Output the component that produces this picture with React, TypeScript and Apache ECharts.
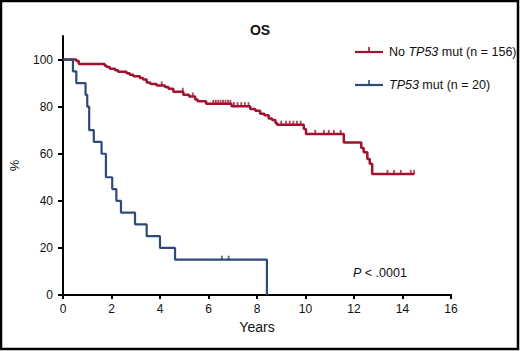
import React, { useEffect, useRef } from "react";
import * as echarts from "echarts";

// Kaplan–Meier step events: [time in years, survival % after the event]
const noMutEvents: [number, number][] = [
  [0.55, 99.4], [0.65, 98.1], [1.72, 97.4], [1.8, 96.8], [1.93, 96.1], [2.15, 95.5],
  [2.27, 94.8], [2.62, 94.2], [2.75, 93.5], [2.9, 92.9], [3.17, 92.2], [3.3, 91.5],
  [3.45, 90.3], [3.6, 89.6], [3.86, 89.0], [4.2, 88.3], [4.35, 87.6], [4.55, 86.3],
  [4.96, 85.0], [5.2, 84.3], [5.45, 83.0], [5.55, 82.3], [5.9, 81.2], [6.95, 80.2],
  [7.72, 79.0], [7.93, 78.3], [8.13, 77.0], [8.3, 76.3], [8.48, 75.0], [8.62, 74.3],
  [8.76, 73.0], [8.83, 72.3], [9.93, 70.5], [10.02, 68.4], [11.58, 64.8], [12.3, 62.4],
  [12.4, 60.6], [12.55, 57.8], [12.65, 55.7], [12.75, 51.4],
];
const noMutEnd = 14.48;
const noMutCensored = [
  4.07, 4.94, 5.35, 6.2, 6.3, 6.4, 6.5, 6.6, 6.7, 6.8, 6.9, 7.05, 7.2, 7.35, 7.5, 7.65,
  9.0, 9.2, 9.35, 9.5, 9.65, 9.8, 10.4, 10.76, 10.96, 11.17, 11.45, 13.38, 13.65, 13.93,
  14.34, 14.48,
];

const mutEvents: [number, number][] = [
  [0.41, 95], [0.55, 90], [0.93, 85], [1.0, 80], [1.08, 70], [1.27, 65], [1.59, 60],
  [1.77, 50], [2.03, 45], [2.2, 40], [2.39, 35], [2.97, 30], [3.45, 25], [4.0, 20],
  [4.62, 15], [8.41, 0],
];
const mutEnd = 8.41;
const mutCensored = [6.55, 6.83];

const xTicks = [0, 2, 4, 6, 8, 10, 12, 14, 16];
const yTicks = [0, 20, 40, 60, 80, 100];

const RED = "#a3122e";
const BLUE = "#2f4a7a";

function stepLine(events: [number, number][], end: number): number[][] {
  const pts: number[][] = [[0, 100]];
  let prev = 100;
  for (const [t, v] of events) {
    pts.push([t, prev]);
    pts.push([t, v]);
    prev = v;
  }
  pts.push([end, prev]);
  return pts;
}

function survAt(events: [number, number][], t: number): number {
  let s = 100;
  for (const [et, v] of events) {
    if (et <= t) s = v;
  }
  return s;
}

export default function App() {
  const ref = useRef<HTMLDivElement>(null);
  useEffect(() => {
    document.body.style.margin = "0";
    if (!ref.current) return;
    const chart = echarts.init(ref.current, null, { renderer: "svg" });
    const font = "'Liberation Sans', Arial, sans-serif";
    const censorSym = {
      type: "scatter" as const,
      symbol: "rect",
      symbolSize: [1.8, 4.5],
      symbolOffset: [0, -1.8],
      silent: true,
      z: 3,
    };
    const rich = {
      n: { fontFamily: font, fontSize: 12.5, fill: "#111" },
      i: { fontFamily: font, fontSize: 12.5, fontStyle: "italic", fill: "#111" },
    };
    chart.setOption({
      animation: false,
      backgroundColor: "#ffffff",
      title: {
        text: "OS",
        left: "center",
        top: 18,
        textStyle: { fontFamily: font, fontSize: 14, fontWeight: "bold", color: "#111" },
      },
      grid: { left: 63, right: 69, top: 36, bottom: 56 },
      xAxis: {
        type: "value",
        min: 0,
        max: 16,
        interval: 2,
        name: "Years",
        nameLocation: "middle",
        nameGap: 24,
        nameTextStyle: { fontFamily: font, fontSize: 14, color: "#111" },
        axisLine: { onZero: false, lineStyle: { color: "#000", width: 2 } },
        axisTick: { length: 4, lineStyle: { color: "#000", width: 2 } },
        axisLabel: {
          margin: 8,
          fontFamily: font,
          fontSize: 12,
          color: "#111",
          customValues: xTicks,
        },
        splitLine: { show: false },
      },
      yAxis: {
        type: "value",
        min: 0,
        max: 110,
        name: "%",
        nameLocation: "middle",
        nameGap: 42,
        nameRotate: 90,
        nameTextStyle: { fontFamily: font, fontSize: 13, color: "#111" },
        axisLine: { show: true, lineStyle: { color: "#000", width: 2 } },
        axisTick: {
          show: true,
          length: 5,
          lineStyle: { color: "#000", width: 2 },
          customValues: yTicks,
        },
        axisLabel: {
          margin: 10,
          fontFamily: font,
          fontSize: 12,
          color: "#111",
          customValues: yTicks,
        },
        splitLine: { show: false },
      },
      series: [
        {
          type: "line",
          data: stepLine(noMutEvents, noMutEnd),
          symbol: "none",
          lineStyle: { color: RED, width: 2.5 },
          z: 2,
        },
        {
          type: "line",
          data: stepLine(mutEvents, mutEnd),
          symbol: "none",
          lineStyle: { color: BLUE, width: 2.2 },
          z: 2,
        },
        {
          ...censorSym,
          data: noMutCensored.map((t) => [t, survAt(noMutEvents, t)]),
          itemStyle: { color: RED },
        },
        {
          ...censorSym,
          data: mutCensored.map((t) => [t, survAt(mutEvents, t)]),
          itemStyle: { color: BLUE },
        },
      ],
      graphic: [
        {
          type: "rect",
          shape: { x: 1, y: 1, width: 517, height: 348 },
          style: { fill: "none", stroke: "#000", lineWidth: 2.5 },
          silent: true,
        },
        { type: "line", shape: { x1: 355, y1: 52, x2: 383, y2: 52 }, style: { stroke: RED, lineWidth: 2.2 } },
        { type: "line", shape: { x1: 369, y1: 47, x2: 369, y2: 52 }, style: { stroke: RED, lineWidth: 1.6 } },
        {
          type: "text",
          x: 389,
          y: 52,
          style: { text: "{n|No }{i|TP53}{n| mut (n = 156)}", verticalAlign: "middle", rich },
        },
        { type: "line", shape: { x1: 355, y1: 85, x2: 383, y2: 85 }, style: { stroke: BLUE, lineWidth: 2.2 } },
        { type: "line", shape: { x1: 369, y1: 80, x2: 369, y2: 85 }, style: { stroke: BLUE, lineWidth: 1.6 } },
        {
          type: "text",
          x: 389,
          y: 85,
          style: { text: "{i|TP53}{n| mut (n = 20)}", verticalAlign: "middle", rich },
        },
        {
          type: "text",
          x: 353,
          y: 273,
          style: { text: "{i|P}{n| < .0001}", verticalAlign: "middle", rich },
        },
      ],
    });
    return () => chart.dispose();
  }, []);
  return <div ref={ref} style={{ width: 520, height: 351 }} />;
}
